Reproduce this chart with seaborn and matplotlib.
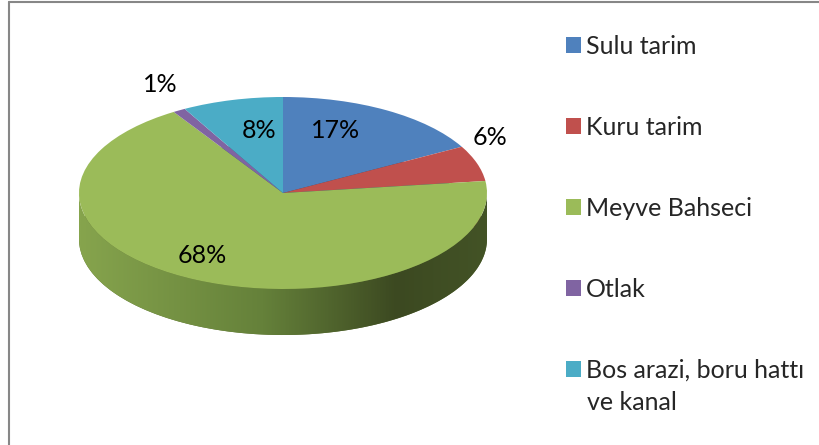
import numpy as np
import matplotlib
matplotlib.use("Agg")
import matplotlib.pyplot as plt
import seaborn as sns
from matplotlib.colors import LinearSegmentedColormap
from matplotlib.patches import Polygon
from matplotlib.lines import Line2D

sns.set_style("white")
plt.rcParams["font.family"] = ["Lato", "DejaVu Sans"]

# data
categories = ["Sulu tarim", "Kuru tarim", "Meyve Bahseci", "Otlak", "Bos arazi, boru hattı"]
shares = [17, 6, 68, 1, 8]
pct_labels = ["17%", "6%", "68%", "1%", "8%"]
colors = ["#4F81BD", "#C0504D", "#9BBB59", "#8064A2", "#4BACC6"]
side_colors = ["#2f4d71", "#73302e", "#5d7035", "#4c3c61", "#2d6777"]

# where the percent labels sit (pie units, x by rx, y by ry)
label_xy = [(0.255, 0.646), (1.015, 0.573), (-0.397, -0.646), (-0.603, 1.135), (-0.118, 0.646)]

W, H = 820, 445
fig = plt.figure(figsize=(W / 100, H / 100), dpi=100)

# pie geometry in pixels
cx, cy, rx, ry, depth_px = 283, 193, 204, 96, 46
x0, x1, y0, y1 = -1.3, 1.3, -1.6, 1.3
left_px = cx + x0 * rx
top_px = cy - y1 * ry
ax = fig.add_axes([left_px / W, 1 - (top_px + (y1 - y0) * ry) / H,
                   (x1 - x0) * rx / W, (y1 - y0) * ry / H])
depth = depth_px / ry

# bottom of the disc
ax.pie(shares, colors=side_colors, startangle=90, counterclock=False,
       center=(0, -depth), radius=1, wedgeprops=dict(linewidth=0, zorder=1))

# shaded side band
t = np.linspace(np.pi, 2 * np.pi, 300)
band = np.vstack([np.column_stack([np.cos(t), np.sin(t)]),
                  np.column_stack([np.cos(t[::-1]), np.sin(t[::-1]) - depth])])
poly = Polygon(band, closed=True, facecolor="none", edgecolor="none")
ax.add_patch(poly)
side_cmap = LinearSegmentedColormap.from_list(
    "side", [(0, "#86a44d"), (0.45, "#65813a"), (0.78, "#3c4921"), (1, "#435326")])
grad = np.linspace(0, 1, 400).reshape(1, -1)
im = ax.imshow(grad, extent=[-1, 1, -1 - depth, 0], cmap=side_cmap,
               aspect="auto", zorder=2, interpolation="bilinear")
im.set_clip_path(poly)

# top face
wedges, _ = ax.pie(shares, colors=colors, startangle=90, counterclock=False,
                   center=(0, 0), radius=1, wedgeprops=dict(linewidth=0, zorder=3))

for (lx, ly), txt in zip(label_xy, pct_labels):
    ax.text(lx, ly, txt, ha="center", va="center", fontsize=18, color="black",
            zorder=5, clip_on=False)

ax.set_aspect("auto")
ax.set_xlim(x0, x1)
ax.set_ylim(y0, y1)
ax.axis("off")

leg = fig.legend(wedges, categories, loc="upper left",
                 bbox_to_anchor=(566 / W, 1 - 35 / H), frameon=False,
                 fontsize=18, borderpad=0, borderaxespad=0,
                 handlelength=0.6, handleheight=0.6, handletextpad=0.2,
                 labelspacing=2.32)
fig.text(587 / W, 1 - 403 / H, "ve kanal", fontsize=18, va="center", ha="left")

# chart frame
fig.add_artist(Line2D([8.5 / W, 8.5 / W], [0, 1 - 1.5 / H], transform=fig.transFigure,
                      color="#878787", lw=1.5))
fig.add_artist(Line2D([8.5 / W, 1], [1 - 1.5 / H, 1 - 1.5 / H], transform=fig.transFigure,
                      color="#878787", lw=1.5))

fig.savefig("out.png", dpi=100)
